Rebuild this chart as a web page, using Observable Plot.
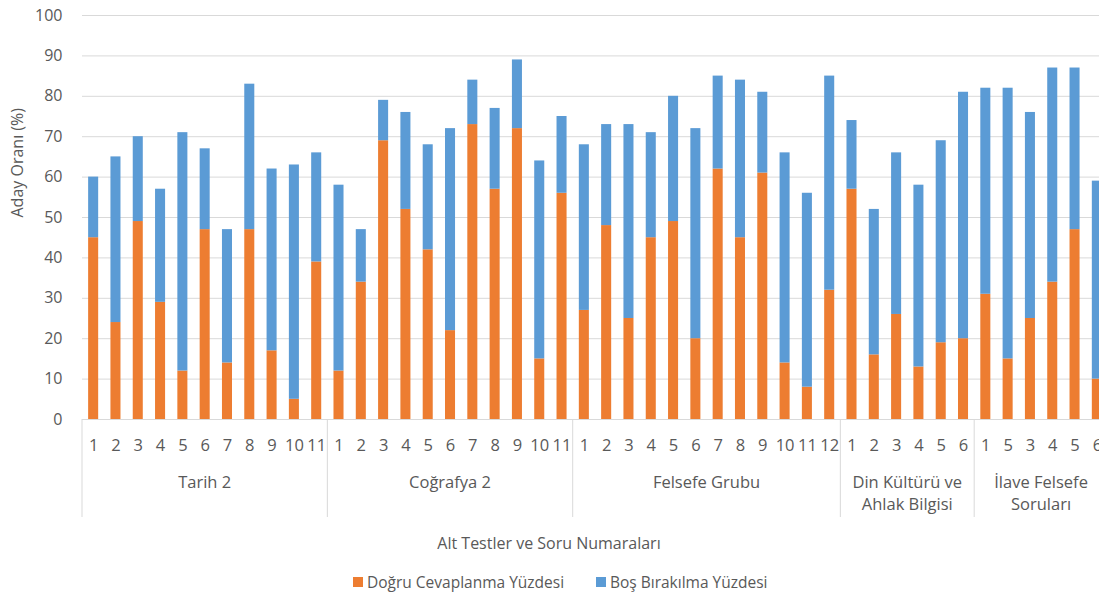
<!DOCTYPE html>
<html><head><meta charset="utf-8">
<script src="https://cdn.jsdelivr.net/npm/d3@7"></script>
<script src="https://cdn.jsdelivr.net/npm/@observablehq/plot@0.6"></script>
<style>
html,body{margin:0;padding:0;background:#fff;overflow:hidden;width:1099px;height:597px;font-family:"Open Sans",sans-serif;color:#595959;}
#chart{position:absolute;left:0;top:0;}
#chart svg{overflow:hidden;}
.xtitle{position:absolute;top:532px;left:549px;transform:translateX(-50%);font-size:16px;line-height:22px;white-space:nowrap;}
.leg{position:absolute;top:571px;font-size:15.5px;line-height:22px;white-space:nowrap;display:flex;align-items:center;}
.sw{width:10px;height:10px;display:inline-block;margin-right:4px;}
</style></head>
<body>
<div id="chart"></div>
<div class="xtitle">Alt Testler ve Soru Numaraları</div>
<div class="leg" style="left:353px"><span class="sw" style="background:#ED7D31"></span>Doğru Cevaplanma Yüzdesi</div>
<div class="leg" style="left:596px"><span class="sw" style="background:#5B9BD5"></span>Boş Bırakılma Yüzdesi</div>
<script>
const groups = ["Tarih 2", "Coğrafya 2", "Felsefe Grubu", "Din Kültürü ve\nAhlak Bilgisi", "İlave Felsefe\nSoruları"];
const questionLabels = [
  ["1","2","3","4","5","6","7","8","9","10","11"],
  ["1","2","3","4","5","6","7","8","9","10","11"],
  ["1","2","3","4","5","6","7","8","9","10","11","12"],
  ["1","2","3","4","5","6"],
  ["1","5","3","4","5","6"]
];
const dogru = [
  [45,24,49,29,12,47,14,47,17,5,39],
  [12,34,69,52,42,22,73,57,72,15,56],
  [27,48,25,45,49,20,62,45,61,14,8,32],
  [57,16,26,13,19,20],
  [31,15,25,34,47,10]
];
const bos = [
  [15,41,21,28,59,20,33,36,45,58,27],
  [46,13,10,24,26,50,11,20,17,49,19],
  [41,25,48,26,31,52,23,39,20,52,48,53],
  [17,36,40,45,50,61],
  [51,67,51,53,40,49]
];
const seriesNames = ["Doğru Cevaplanma Yüzdesi", "Boş Bırakılma Yüzdesi"];
const seriesColors = ["#ED7D31", "#5B9BD5"];
const yTicks = d3.range(0, 101, 10);

const cats = [];
groups.forEach((g, gi) => questionLabels[gi].forEach((q, qi) => cats.push({id: gi + "-" + qi, label: q, group: gi, qi})));
const ids = cats.map(d => d.id);
const rows = [];
cats.forEach(c => {
  rows.push({id: c.id, series: seriesNames[0], value: dogru[c.group][c.qi]});
  rows.push({id: c.id, series: seriesNames[1], value: bos[c.group][c.qi]});
});
const groupStarts = [];
let acc = 0;
groups.forEach((g, gi) => { groupStarts.push(acc); acc += questionLabels[gi].length; });

// plot area: categories span [82, 1108] (right end cropped by the window)
const xLeft = 82, xRight = 1108, pad = 0.55;
const stepW = (xRight - xLeft) / ids.length;
const xRange = [xLeft - stepW * pad / 2, xRight + stepW * pad / 2];

function groupAxis(index, scales, values, dims) {
  const x = scales.x;
  const y0 = dims.height - dims.marginBottom;
  const step = x(ids[1]) - x(ids[0]);
  const bw = typeof x.bandwidth === "function" ? x.bandwidth() : step * (1 - pad);
  const boundary = k => k < ids.length ? x(ids[k]) - (step - bw) / 2 : x(ids[ids.length - 1]) + bw + (step - bw) / 2;
  const g = d3.create("svg:g");
  groups.forEach((name, gi) => {
    const a = boundary(groupStarts[gi]);
    const b = boundary(groupStarts[gi] + questionLabels[gi].length);
    g.append("line").attr("x1", a).attr("x2", a).attr("y1", y0).attr("y2", y0 + 98)
      .attr("stroke", "#d9d9d9").attr("stroke-width", 1);
    const lines = name.split("\n");
    const t = g.append("text").attr("text-anchor", "middle").attr("fill", "#595959")
      .attr("font-size", 16.5).attr("font-family", "Open Sans");
    lines.forEach((ln, li) => t.append("tspan").attr("x", (a + b) / 2).attr("y", y0 + 63 + li * 22).attr("dy", "0.35em").text(ln));
  });
  return g.node();
}

const plot = Plot.plot({
  width: 1099,
  height: 525,
  marginLeft: 82,
  marginRight: -9,
  marginTop: 15,
  marginBottom: 106,
  style: {fontFamily: "Open Sans", fontSize: "16px", color: "#595959", background: "#fff"},
  x: {domain: ids, padding: pad, align: 0.5, round: false, range: xRange, axis: null},
  y: {domain: [0, 100], axis: null},
  color: {domain: seriesNames, range: seriesColors},
  marks: [
    Plot.gridY(yTicks, {stroke: "#d9d9d9", strokeOpacity: 1, strokeWidth: 1}),
    Plot.axisY(yTicks, {tickSize: 0, tickPadding: 20, label: null, fill: "#595959", fontSize: 16}),
    Plot.text(["Aday Oranı (%)"], {frameAnchor: "left", dx: -65, rotate: -90, fill: "#595959", fontSize: 16}),
    Plot.barY(rows, {x: "id", y: "value", fill: "series", order: seriesNames}),
    Plot.text(cats, {x: "id", text: "label", frameAnchor: "bottom", dy: 26, lineAnchor: "middle", fill: "#595959", fontSize: 16.5}),
    groupAxis
  ]
});
document.getElementById("chart").appendChild(plot);
</script>
</body></html>
